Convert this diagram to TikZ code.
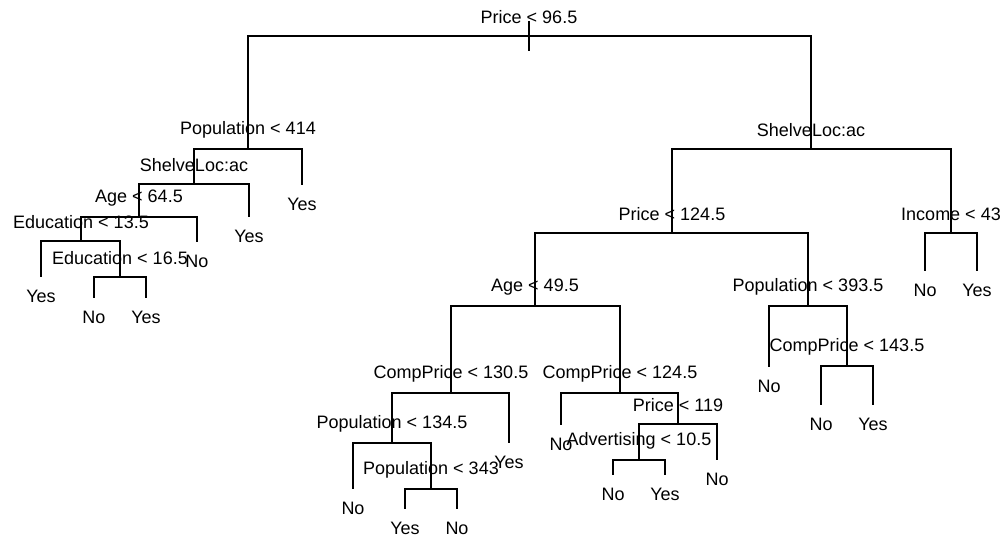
\documentclass[tikz,border=0pt]{standalone}
\usepackage{fontspec}
\setmainfont{Liberation Sans}
\tikzset{
  branch/.style={line width=2.2pt},
  splitlab/.style={font=\fontsize{18}{20}\selectfont, inner sep=0pt},
  leaflab/.style={font=\fontsize{18}{20}\selectfont, inner sep=0pt}
}
\newcommand{\splitnode}[4]{%
   % name, x, y of the bar, rule printed above it
   \coordinate (#1) at (#2,#3);
   \node[splitlab] (#1-rule) at (#2,#3-19) {#4};
}
\newcommand{\leafnode}[4]{%
   % name, x, y where the branch stops, class printed below it
   \coordinate (#1) at (#2,#3);
   \node[leaflab] (#1-class) at (#2,#3+19.5) {#4};
}

\begin{document}
\begin{tikzpicture}[x=1pt, y=-1pt]
\useasboundingbox (0,0) rectangle (1006,538);

   % splits
   \splitnode{root}{529}{36}{Price < 96.5}
   \splitnode{popA}{248}{149}{Population < 414}
   \splitnode{shelveA}{194}{184}{ShelveLoc:ac}
   \splitnode{ageA}{139}{217}{Age < 64.5}
   \splitnode{eduA}{81}{241}{Education < 13.5}
   \splitnode{eduB}{120}{277}{Education < 16.5}
   \splitnode{shelveB}{811}{149}{ShelveLoc:ac}
   \splitnode{priceB}{672}{233}{Price < 124.5}
   \splitnode{income}{951}{233}{Income < 43}
   \splitnode{ageB}{535}{306}{Age < 49.5}
   \splitnode{popC}{808}{306}{Population < 393.5}
   \splitnode{compA}{451}{393}{CompPrice < 130.5}
   \splitnode{compB}{620}{393}{CompPrice < 124.5}
   \splitnode{popD}{392}{443}{Population < 134.5}
   \splitnode{popE}{431}{489}{Population < 343}
   \splitnode{priceC}{678}{424}{Price < 119}
   \splitnode{advert}{639}{460}{Advertising < 10.5}
   \splitnode{compC}{847}{366}{CompPrice < 143.5}

   % leaves
   \leafnode{l1}{302}{185}{Yes}
   \leafnode{l2}{249}{217}{Yes}
   \leafnode{l3}{197}{242}{No}
   \leafnode{l4}{41}{277}{Yes}
   \leafnode{l5}{94}{298}{No}
   \leafnode{l6}{146}{298}{Yes}
   \leafnode{l7}{925}{271}{No}
   \leafnode{l8}{977}{271}{Yes}
   \leafnode{l9}{509}{443}{Yes}
   \leafnode{l10}{353}{489}{No}
   \leafnode{l11}{405}{509}{Yes}
   \leafnode{l12}{457}{509}{No}
   \leafnode{l13}{561}{425}{No}
   \leafnode{l14}{717}{460}{No}
   \leafnode{l15}{613}{475}{No}
   \leafnode{l16}{665}{475}{Yes}
   \leafnode{l17}{769}{367}{No}
   \leafnode{l18}{821}{405}{No}
   \leafnode{l19}{873}{405}{Yes}

   % stem through the root
   \coordinate (stem-top) at (529,21);
   \coordinate (stem-bot) at (529,51);
   \draw[branch] (stem-top) -- (stem-bot);

   \foreach \p/\c in {root/popA, root/shelveB, popA/shelveA, popA/l1,
      shelveA/ageA, shelveA/l2, ageA/eduA, ageA/l3, eduA/l4, eduA/eduB,
      eduB/l5, eduB/l6, shelveB/priceB, shelveB/income, income/l7, income/l8,
      priceB/ageB, priceB/popC, ageB/compA, ageB/compB, compA/popD, compA/l9,
      popD/l10, popD/popE, popE/l11, popE/l12, compB/l13, compB/priceC,
      priceC/advert, priceC/l14, advert/l15, advert/l16, popC/l17, popC/compC,
      compC/l18, compC/l19}
      \draw[branch] (\p) -| (\c);

\end{tikzpicture}
\end{document}
